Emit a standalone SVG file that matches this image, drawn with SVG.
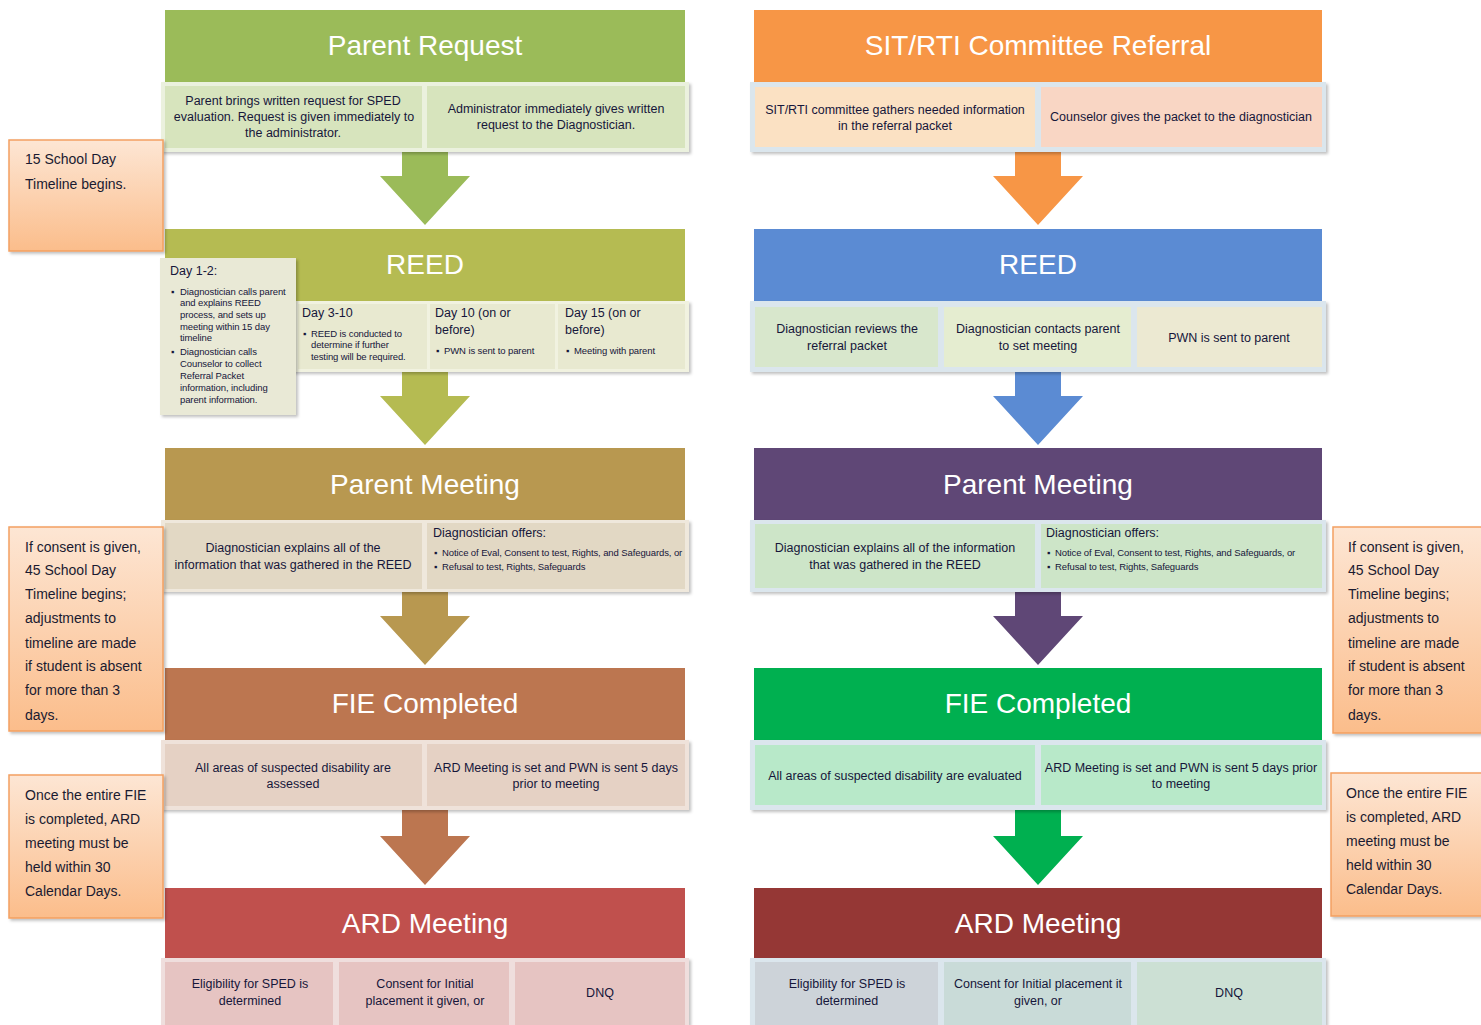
<svg xmlns="http://www.w3.org/2000/svg" width="1481" height="1025" viewBox="0 0 1481 1025">
<defs>
<linearGradient id="noteGrad" x1="0" y1="0" x2="0" y2="1">
<stop offset="0" stop-color="#fde6d4"/>
<stop offset="1" stop-color="#fbbd8b"/>
</linearGradient>
<filter id="sh" x="-10%" y="-10%" width="130%" height="130%">
<feDropShadow dx="2" dy="2" stdDeviation="1.5" flood-color="#000" flood-opacity="0.25"/>
</filter>
</defs>
<style>
text{font-family:"Liberation Sans",Arial,sans-serif;}
.hd{font-size:28px;fill:#ffffff;text-anchor:middle;}
.dt{font-size:12.5px;fill:#16163a;text-anchor:middle;}
.dl{font-size:12.5px;fill:#16163a;}
.sm{font-size:9.5px;fill:#16163a;letter-spacing:-0.1px;}
.nt{font-size:14px;fill:#1a1a30;}
.note{fill:url(#noteGrad);stroke:#f3a061;stroke-width:1.5;filter:url(#sh);}
.band{filter:url(#sh);}
</style>
<rect width="1481" height="1025" fill="#ffffff"/>

<!-- connectors (block arrows) -->
<g id="connectors">
<polygon points="402,152 448,152 448,176 470,176 425,225 380,176 402,176" fill="#9bbb59"/>
<polygon points="402,372 448,372 448,396 470,396 425,445 380,396 402,396" fill="#b5bb52"/>
<polygon points="402,592 448,592 448,616 470,616 425,665 380,616 402,616" fill="#b89850"/>
<polygon points="402,810 448,810 448,836 470,836 425,885 380,836 402,836" fill="#bc7650"/>
<polygon points="1015,152 1061,152 1061,176 1083,176 1038,225 993,176 1015,176" fill="#f79646"/>
<polygon points="1015,372 1061,372 1061,396 1083,396 1038,445 993,396 1015,396" fill="#5b8bd3"/>
<polygon points="1015,592 1061,592 1061,616 1083,616 1038,665 993,616 1015,616" fill="#5f4776"/>
<polygon points="1015,810 1061,810 1061,836 1083,836 1038,885 993,836 1015,836" fill="#00b050"/>
</g>

<!-- LEFT COLUMN -->
<g id="left-parent-request">
<rect x="165" y="10" width="520" height="72" fill="#9bbb59"/>
<text class="hd" x="425" y="55">Parent Request</text>
<rect class="band" x="161" y="82" width="528" height="70" fill="#ebf1de"/>
<rect x="165" y="86" width="257" height="62" fill="#d7e4bd"/>
<rect x="427" y="86" width="258" height="62" fill="#d7e4bd"/>
<text class="dt" x="293" y="105">Parent brings written request for SPED</text>
<text class="dt" x="294" y="121">evaluation. Request is given immediately to</text>
<text class="dt" x="293" y="137">the administrator.</text>
<text class="dt" x="556" y="113">Administrator immediately gives written</text>
<text class="dt" x="556" y="129">request to the Diagnostician.</text>
</g>

<g id="left-reed">
<rect x="165" y="229" width="520" height="72" fill="#b5bb52"/>
<text class="hd" x="425" y="274">REED</text>
<rect class="band" x="161" y="301" width="528" height="71" fill="#f1f2e0"/>
<rect x="298" y="304" width="129" height="65" fill="#e8e9d0"/>
<rect x="430" y="304" width="125" height="65" fill="#e8e9d0"/>
<rect x="558" y="304" width="127" height="65" fill="#e8e9d0"/>
<rect class="band" x="160" y="258" width="136" height="157" fill="#e9e9d6"/>
<text class="dl" x="170" y="275">Day 1-2:</text>
<text class="sm" x="171" y="295">▪</text>
<text class="sm" x="180" y="295">Diagnostician calls parent</text>
<text class="sm" x="180" y="306">and explains REED</text>
<text class="sm" x="180" y="318">process, and sets up</text>
<text class="sm" x="180" y="330">meeting within 15 day</text>
<text class="sm" x="180" y="341">timeline</text>
<text class="sm" x="171" y="355">▪</text>
<text class="sm" x="180" y="355">Diagnostician calls</text>
<text class="sm" x="180" y="367">Counselor to collect</text>
<text class="sm" x="180" y="379">Referral Packet</text>
<text class="sm" x="180" y="391">information, including</text>
<text class="sm" x="180" y="403">parent information.</text>
<text class="dl" x="302" y="317">Day 3-10</text>
<text class="sm" x="303" y="337">▪</text>
<text class="sm" x="311" y="337">REED is conducted to</text>
<text class="sm" x="311" y="348">determine if further</text>
<text class="sm" x="311" y="360">testing will be required.</text>
<text class="dl" x="435" y="317">Day 10 (on or</text>
<text class="dl" x="435" y="334">before)</text>
<text class="sm" x="436" y="354">▪</text>
<text class="sm" x="444" y="354">PWN is sent to parent</text>
<text class="dl" x="565" y="317">Day 15 (on or</text>
<text class="dl" x="565" y="334">before)</text>
<text class="sm" x="566" y="354">▪</text>
<text class="sm" x="574" y="354">Meeting with parent</text>
</g>

<g id="left-parent-meeting">
<rect x="165" y="448" width="520" height="72" fill="#b89850"/>
<text class="hd" x="425" y="494">Parent Meeting</text>
<rect class="band" x="161" y="520" width="528" height="72" fill="#efe8dc"/>
<rect x="165" y="523" width="257" height="66" fill="#e2d8c4"/>
<rect x="427" y="523" width="258" height="66" fill="#e2d8c4"/>
<text class="dt" x="293" y="552">Diagnostician explains  all of the</text>
<text class="dt" x="293" y="569">information that was gathered in the REED</text>
<text class="dl" x="433" y="537">Diagnostician offers:</text>
<text class="sm" x="434" y="556">▪</text>
<text class="sm" x="442" y="556">Notice of Eval, Consent to test, Rights, and Safeguards, or</text>
<text class="sm" x="434" y="570">▪</text>
<text class="sm" x="442" y="570">Refusal to test, Rights, Safeguards</text>
</g>

<g id="left-fie">
<rect x="165" y="668" width="520" height="72" fill="#bc7650"/>
<text class="hd" x="425" y="713">FIE Completed</text>
<rect class="band" x="161" y="740" width="528" height="70" fill="#efe2da"/>
<rect x="165" y="744" width="257" height="62" fill="#e5d1c4"/>
<rect x="427" y="744" width="258" height="62" fill="#e5d1c4"/>
<text class="dt" x="293" y="772">All areas of suspected disability are</text>
<text class="dt" x="293" y="788">assessed</text>
<text class="dt" x="556" y="772">ARD Meeting is set and PWN is sent 5 days</text>
<text class="dt" x="556" y="788">prior to meeting</text>
</g>

<g id="left-ard">
<rect x="165" y="888" width="520" height="70" fill="#c0504d"/>
<text class="hd" x="425" y="933">ARD Meeting</text>
<rect class="band" x="161" y="958" width="528" height="67" fill="#efdedd"/>
<rect x="165" y="962" width="168" height="63" fill="#e6c4c2"/>
<rect x="339" y="962" width="170" height="63" fill="#e6c4c2"/>
<rect x="515" y="962" width="170" height="63" fill="#e6c4c2"/>
<text class="dt" x="250" y="988">Eligibility for SPED is</text>
<text class="dt" x="250" y="1005">determined</text>
<text class="dt" x="425" y="988">Consent for Initial</text>
<text class="dt" x="425" y="1005">placement it given, or</text>
<text class="dt" x="600" y="997">DNQ</text>
</g>

<!-- RIGHT COLUMN -->
<g id="right-sit-rti">
<rect x="754" y="10" width="568" height="72" fill="#f79646"/>
<text class="hd" x="1038" y="55">SIT/RTI Committee Referral</text>
<rect class="band" x="750" y="82" width="576" height="70" fill="#dbe6ed"/>
<rect x="755" y="87" width="280" height="60" fill="#fbe1c3"/>
<rect x="1041" y="87" width="281" height="60" fill="#f9d6c4"/>
<text class="dt" x="895" y="114">SIT/RTI committee gathers needed information</text>
<text class="dt" x="895" y="130">in the referral packet</text>
<text class="dt" x="1181" y="121">Counselor gives the packet to the diagnostician</text>
</g>

<g id="right-reed">
<rect x="754" y="229" width="568" height="72" fill="#5b8bd3"/>
<text class="hd" x="1038" y="274">REED</text>
<rect class="band" x="750" y="301" width="576" height="71" fill="#dbe6ed"/>
<rect x="755" y="307" width="183" height="60" fill="#d8e7cc"/>
<rect x="944" y="307" width="187" height="60" fill="#e5edd0"/>
<rect x="1137" y="307" width="185" height="60" fill="#ece9d2"/>
<text class="dt" x="847" y="333">Diagnostician reviews the</text>
<text class="dt" x="847" y="350">referral packet</text>
<text class="dt" x="1038" y="333">Diagnostician contacts parent</text>
<text class="dt" x="1038" y="350">to set meeting</text>
<text class="dt" x="1229" y="342">PWN is sent to parent</text>
</g>

<g id="right-parent-meeting">
<rect x="754" y="448" width="568" height="72" fill="#5f4776"/>
<text class="hd" x="1038" y="494">Parent Meeting</text>
<rect class="band" x="750" y="520" width="576" height="72" fill="#dbe6ed"/>
<rect x="755" y="524" width="280" height="64" fill="#cde5c8"/>
<rect x="1041" y="524" width="281" height="64" fill="#cde5c8"/>
<text class="dt" x="895" y="552">Diagnostician explains  all of the information</text>
<text class="dt" x="895" y="569">that was gathered in the REED</text>
<text class="dl" x="1046" y="537">Diagnostician offers:</text>
<text class="sm" x="1047" y="556">▪</text>
<text class="sm" x="1055" y="556">Notice of Eval, Consent to test, Rights, and Safeguards, or</text>
<text class="sm" x="1047" y="570">▪</text>
<text class="sm" x="1055" y="570">Refusal to test, Rights, Safeguards</text>
</g>

<g id="right-fie">
<rect x="754" y="668" width="568" height="72" fill="#00b050"/>
<text class="hd" x="1038" y="713">FIE Completed</text>
<rect class="band" x="750" y="740" width="576" height="70" fill="#dbe6ed"/>
<rect x="755" y="745" width="280" height="60" fill="#b8e9c9"/>
<rect x="1041" y="745" width="281" height="60" fill="#b8e9c9"/>
<text class="dt" x="895" y="780">All areas of suspected disability are evaluated</text>
<text class="dt" x="1181" y="772">ARD Meeting is set and PWN is sent 5 days prior</text>
<text class="dt" x="1181" y="788">to meeting</text>
</g>

<g id="right-ard">
<rect x="754" y="888" width="568" height="70" fill="#953735"/>
<text class="hd" x="1038" y="933">ARD Meeting</text>
<rect class="band" x="750" y="958" width="576" height="67" fill="#dbe6ed"/>
<rect x="755" y="962" width="183" height="63" fill="#cdd3d9"/>
<rect x="944" y="962" width="187" height="63" fill="#c9dbd8"/>
<rect x="1137" y="962" width="185" height="63" fill="#cce0d4"/>
<text class="dt" x="847" y="988">Eligibility for SPED is</text>
<text class="dt" x="847" y="1005">determined</text>
<text class="dt" x="1038" y="988">Consent for Initial placement it</text>
<text class="dt" x="1038" y="1005">given, or</text>
<text class="dt" x="1229" y="997">DNQ</text>
</g>

<!-- NOTES -->
<g id="note-15-day">
<rect class="note" x="9" y="140" width="154" height="111"/>
<text class="nt" x="25" y="164">15 School Day</text>
<text class="nt" x="25" y="189">Timeline begins.</text>
</g>
<g id="note-45-day-left">
<rect class="note" x="9" y="527" width="154" height="204"/>
<text class="nt" x="25" y="552">If consent is given,</text>
<text class="nt" x="25" y="575">45 School Day</text>
<text class="nt" x="25" y="599">Timeline begins;</text>
<text class="nt" x="25" y="623">adjustments to</text>
<text class="nt" x="25" y="648">timeline are made</text>
<text class="nt" x="25" y="671">if student is absent</text>
<text class="nt" x="25" y="695">for more than 3</text>
<text class="nt" x="25" y="720">days.</text>
</g>
<g id="note-30-day-left">
<rect class="note" x="9" y="775" width="154" height="143"/>
<text class="nt" x="25" y="800">Once the entire FIE</text>
<text class="nt" x="25" y="824">is completed, ARD</text>
<text class="nt" x="25" y="848">meeting must be</text>
<text class="nt" x="25" y="872">held within 30</text>
<text class="nt" x="25" y="896">Calendar Days.</text>
</g>
<g id="note-45-day-right">
<rect class="note" x="1333" y="527" width="150" height="206"/>
<text class="nt" x="1348" y="552">If consent is given,</text>
<text class="nt" x="1348" y="575">45 School Day</text>
<text class="nt" x="1348" y="599">Timeline begins;</text>
<text class="nt" x="1348" y="623">adjustments to</text>
<text class="nt" x="1348" y="648">timeline are made</text>
<text class="nt" x="1348" y="671">if student is absent</text>
<text class="nt" x="1348" y="695">for more than 3</text>
<text class="nt" x="1348" y="720">days.</text>
</g>
<g id="note-30-day-right">
<rect class="note" x="1331" y="773" width="152" height="143"/>
<text class="nt" x="1346" y="798">Once the entire FIE</text>
<text class="nt" x="1346" y="822">is completed, ARD</text>
<text class="nt" x="1346" y="846">meeting must be</text>
<text class="nt" x="1346" y="870">held within 30</text>
<text class="nt" x="1346" y="894">Calendar Days.</text>
</g>
</svg>
